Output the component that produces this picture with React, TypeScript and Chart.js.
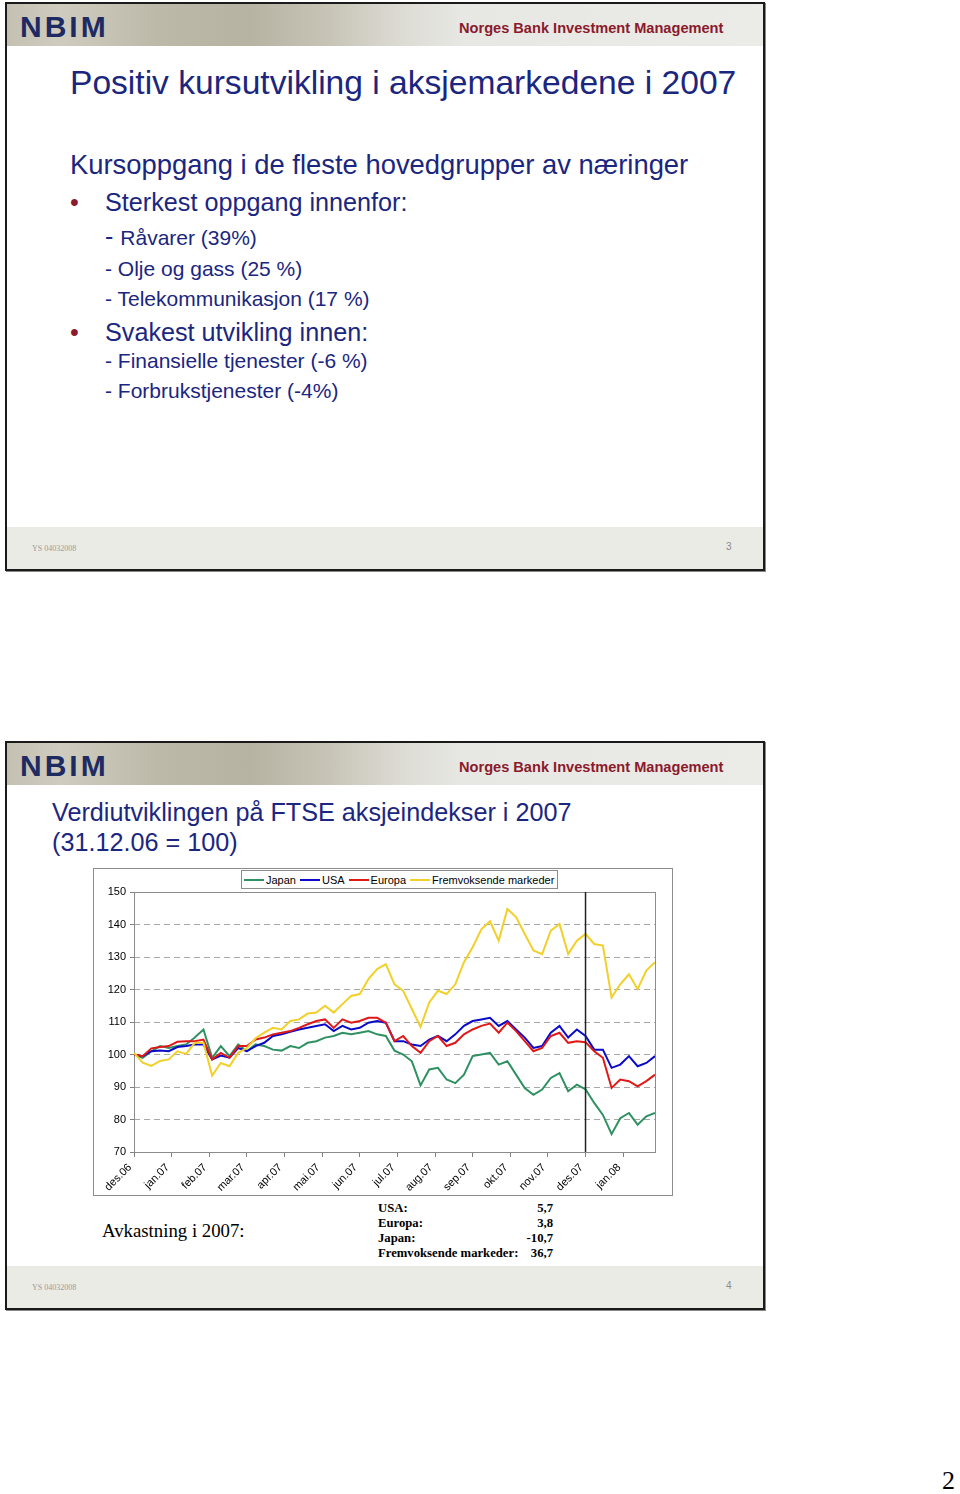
import React, { useEffect, useRef } from 'react';
import { Chart, registerables } from 'chart.js';

Chart.register(...registerables);

// ---------- data ----------
const MONTH_LABELS = [
  'des.06', 'jan.07', 'feb.07', 'mar.07', 'apr.07', 'mai.07', 'jun.07',
  'jul.07', 'aug.07', 'sep.07', 'okt.07', 'nov.07', 'des.07', 'jan.08',
];
const WEEKS_PER_MONTH = 52 / 12;
const YEAR_END_MONTH = 12; // des.07 marker line

// weekly index values (31.12.06 = 100)
const JAPAN = [
  100, 99, 101, 102.6, 102, 102.6, 103.1, 105.2, 107.7, 99, 102.6, 99.5, 103.1, 101, 103.1,
  102.6, 101.5, 101.2, 102.6, 102, 103.6, 104.1, 105.2, 105.7, 106.7, 106.2, 106.7, 107.2, 106.2,
  105.7, 101.2, 100, 97.9, 90.5, 95.4, 95.9, 92.3, 91.2, 93.8, 99.5, 100, 100.5, 96.9, 97.9,
  93.8, 89.7, 87.6, 89.2, 92.8, 94.3, 88.7, 90.7, 89.3, 85.1, 81.4, 75.5, 80.4, 82, 78.4, 81, 82,
];
const USA = [
  100, 99.5, 101, 101.2, 101, 102.3, 102.6, 103.1, 103.1, 98.5, 99.7, 99, 102, 101, 102.6,
  103.6, 105.7, 106.2, 107, 107.7, 108.2, 108.8, 109.3, 107.2, 108.8, 107.7, 108.2, 109.8, 110.3,
  109.8, 104.1, 104.1, 103.1, 102.6, 104.6, 105.7, 104.1, 106.2, 108.8, 110.3, 110.8, 111.3, 108.8,
  110.3, 107.7, 105.2, 102, 102.6, 106.7, 108.8, 105.2, 107.7, 105.7, 101.5, 101.5, 95.9, 96.9,
  99.5, 96.4, 97.4, 99.5,
];
const EUROPA = [
  100, 99.5, 101.9, 102.3, 102.6, 103.9, 104.1, 104.1, 104.6, 98.5, 100.5, 99, 102.6, 102.6, 104.6,
  105.2, 106.2, 106.7, 107.2, 108.2, 109.3, 110.3, 110.8, 108.2, 110.8, 109.8, 110.3, 111.3, 111.3,
  109.8, 104.1, 105.7, 102.6, 100.5, 104.1, 105.7, 102.6, 103.6, 106.2, 107.7, 108.8, 109.5, 106.7,
  109.8, 107.2, 104.1, 101, 102, 105.7, 106.7, 103.6, 104.1, 103.8, 101, 99, 89.7, 92.3, 91.8,
  90.2, 91.8, 93.8,
];
const EMERGING = [
  100.5, 97.5, 96.5, 98, 98.5, 101, 100.2, 103.6, 103.6, 93.5, 97.4, 96.4, 100.5, 102, 105,
  106.7, 108.2, 107.7, 110.3, 110.8, 112.6, 112.9, 115, 112.9, 115.5, 118, 118.6, 123.2, 126.3,
  127.8, 121.6, 119.6, 114, 108.5, 116, 119.6, 118.6, 121.6, 128.4, 133, 138.5, 141, 135, 144.8,
  142.3, 137.1, 132, 130.9, 138.1, 140.2, 130.9, 135, 137.1, 134, 133.5, 117.5, 121.6, 124.7,
  120.1, 125.8, 128.4,
];

const SERIES_NAMES = ['Japan', 'USA', 'Europa', 'Fremvoksende markeder'];
const SERIES_COLORS = ['#2f9162', '#0a0ac8', '#e01818', '#f2d02a'];

const RETURN_LABELS = ['USA:', 'Europa:', 'Japan:', 'Fremvoksende markeder:'];
const RETURN_VALUES = ['5,7', '3,8', '-10,7', '36,7'];

// ---------- styles ----------
const SANS = '"Liberation Sans", Arial, Helvetica, sans-serif';
const SERIF = '"Liberation Serif", "Times New Roman", Times, serif';
const NAVY = '#1b2680';
const DARKRED = '#8b1a2c';

type TProps = {
  x: number; y: number; size: number; children: React.ReactNode;
  color?: string; family?: string; weight?: number; align?: 'left' | 'right';
};
function T({ x, y, size, children, color = NAVY, family = SANS, weight = 400, align = 'left' }: TProps) {
  const top = y - 0.845 * size;
  const pos = align === 'right' ? { right: 960 - x } : { left: x };
  return (
    <div
      style={{
        position: 'absolute', top, ...pos, fontSize: size, lineHeight: `${size}px`,
        whiteSpace: 'nowrap', color, fontFamily: family, fontWeight: weight,
      }}
    >
      {children}
    </div>
  );
}

function Slide({ top, page }: { top: number; page: string }) {
  return (
    <>
      <div
        style={{
          position: 'absolute', left: 5, top, width: 756, height: 565,
          border: '2px solid #1a1a1a', background: '#fff',
          boxShadow: '1px 1px 0 #888',
        }}
      />
      <div
        style={{
          position: 'absolute', left: 7, top: top + 2, width: 756, height: 42,
          background:
            'linear-gradient(90deg, #c4c1b3 0%, #cfccbf 7%, #bdb9a9 20%, #b7b3a3 32%, #c6c3b5 42%, #dcdbd3 52%, #e7e7e3 60%, #ebebe8 100%)',
        }}
      />
      <T x={20} y={top + 35} size={30} weight={700} color="#1e2a62">
        <span style={{ letterSpacing: 3 }}>NBIM</span>
      </T>
      <T x={459} y={top + 31} size={14.6} weight={700} color={DARKRED}>
        Norges Bank Investment Management
      </T>
      <div
        style={{
          position: 'absolute', left: 7, top: top + 525, width: 756, height: 42,
          background: '#ebebe6',
        }}
      />
      <T x={32} y={top + 550} size={8} family={SERIF} color="#9a9a9a">YS 04032008</T>
      <T x={726} y={top + 548} size={10} color="#8a8a8a">{page}</T>
    </>
  );
}

function FtseChart() {
  const ref = useRef<HTMLCanvasElement>(null);
  useEffect(() => {
    const series = [JAPAN, USA, EUROPA, EMERGING];
    const drawOrder = [3, 2, 1, 0];
    const datasets = series.map((vals, s) => ({
      label: SERIES_NAMES[s],
      data: vals.map((v, i) => ({ x: i / WEEKS_PER_MONTH, y: v })),
      borderColor: SERIES_COLORS[s],
      backgroundColor: SERIES_COLORS[s],
      borderWidth: 2,
      pointRadius: 0,
      tension: 0,
      fill: false,
      order: drawOrder[s],
    }));

    const framePlugin = {
      id: 'frameAndMarker',
      beforeDatasetsDraw(chart: any) {
        const { ctx, chartArea: a } = chart;
        ctx.save();
        ctx.strokeStyle = '#8c8c8c';
        ctx.lineWidth = 1;
        ctx.strokeRect(Math.round(a.left) + 0.5, Math.round(a.top) + 0.5,
          Math.round(a.right - a.left), Math.round(a.bottom - a.top));
        ctx.restore();
      },
      afterDatasetsDraw(chart: any) {
        const { ctx, chartArea: a, scales } = chart;
        const x = scales.x.getPixelForValue(YEAR_END_MONTH);
        ctx.save();
        ctx.strokeStyle = '#222';
        ctx.lineWidth = 1.5;
        ctx.beginPath();
        ctx.moveTo(x, a.top);
        ctx.lineTo(x, a.bottom);
        ctx.stroke();
        ctx.restore();
      },
    };

    const tickFont = { family: SANS, size: 11 };
    const chart = new Chart(ref.current as HTMLCanvasElement, {
      type: 'line',
      data: { datasets },
      plugins: [framePlugin],
      options: {
        animation: false,
        responsive: false,
        maintainAspectRatio: false,
        layout: { padding: { top: 24, right: 18, left: 0, bottom: 0 } },
        plugins: { legend: { display: false }, tooltip: { enabled: false } },
        scales: {
          x: {
            type: 'linear',
            min: 0,
            max: (EMERGING.length - 1) / WEEKS_PER_MONTH,
            afterBuildTicks: (s: any) => {
              s.ticks = MONTH_LABELS.map((_, i) => ({ value: i }));
            },
            afterFit: (s: any) => { s.height = 44; },
            ticks: {
              autoSkip: false,
              minRotation: 45,
              maxRotation: 45,
              padding: 4,
              labelOffset: -4,
              color: '#000',
              font: tickFont,
              callback: (v: any) => MONTH_LABELS[Math.round(Number(v))] ?? '',
            },
            grid: { drawOnChartArea: false, tickLength: 5, color: '#808080' },
            border: { display: false },
          },
          y: {
            min: 70,
            max: 150,
            afterFit: (s: any) => { s.width = 41; },
            ticks: { stepSize: 10, padding: 4, color: '#000', font: tickFont },
            grid: {
              color: (c: any) =>
                c.tick && (c.tick.value === 70 || c.tick.value === 150) ? 'rgba(0,0,0,0)' : '#a8a8a8',
              tickColor: '#808080',
              tickLength: 4,
              lineWidth: 1,
            },
            border: { display: false, dash: [6, 4] },
          },
        },
      } as any,
    });
    return () => chart.destroy();
  }, []);
  return (
    <canvas
      ref={ref}
      width={580}
      height={328}
      style={{ position: 'absolute', left: 93, top: 868, width: 580, height: 328 }}
    />
  );
}

function Legend() {
  return (
    <div
      style={{
        position: 'absolute', left: 241, top: 870, height: 17, padding: '0 3px 0 2px',
        border: '1px solid #8c8c8c', background: '#fff', display: 'flex', alignItems: 'center',
        fontFamily: SANS, fontSize: 11, color: '#000', whiteSpace: 'nowrap',
      }}
    >
      {SERIES_NAMES.map((n, i) => (
        <div key={n} style={{ display: 'flex', alignItems: 'center', marginLeft: i === 0 ? 0 : 4 }}>
          <div style={{ width: 20, height: 2, background: SERIES_COLORS[i], marginRight: 2 }} />
          <span>{n}</span>
        </div>
      ))}
    </div>
  );
}

export default function App() {
  return (
    <div
      style={{
        position: 'absolute', left: 0, top: 0, width: 960, height: 1494,
        background: '#fff', overflow: 'hidden', fontFamily: SANS,
      }}
    >
      {/* ---------- slide 3 ---------- */}
      <Slide top={2} page="3" />
      <T x={70} y={94} size={33.6}>Positiv kursutvikling i aksjemarkedene i 2007</T>
      <T x={70} y={174} size={27.4}>Kursoppgang i de fleste hovedgrupper av næringer</T>
      <T x={70} y={211} size={25.2} color={DARKRED}>•</T>
      <T x={105} y={211} size={25.2}>Sterkest oppgang innenfor:</T>
      <T x={105} y={244} size={21}><span style={{ fontSize: 25 }}>- </span>Råvarer (39%)</T>
      <T x={105} y={276} size={21}>- Olje og gass (25 %)</T>
      <T x={105} y={306} size={21}>- Telekommunikasjon (17 %)</T>
      <T x={70} y={341} size={25.2} color={DARKRED}>•</T>
      <T x={105} y={341} size={25.2}>Svakest utvikling innen:</T>
      <T x={105} y={368} size={21}>- Finansielle tjenester (-6 %)</T>
      <T x={105} y={398} size={21}>- Forbrukstjenester (-4%)</T>

      {/* ---------- slide 4 ---------- */}
      <Slide top={741} page="4" />
      <T x={52} y={821} size={25.2}>Verdiutviklingen på FTSE aksjeindekser i 2007</T>
      <T x={52} y={851} size={25.2}>(31.12.06 = 100)</T>

      <div
        style={{
          position: 'absolute', left: 93, top: 868, width: 578, height: 326,
          border: '1px solid #8c8c8c', background: '#fff',
        }}
      />
      <FtseChart />
      <Legend />

      <T x={102} y={1238} size={18.8} family={SERIF} color="#000">Avkastning i 2007:</T>
      {RETURN_LABELS.map((l, i) => (
        <T key={l} x={378} y={1213 + i * 15} size={12.7} family={SERIF} weight={700} color="#000">{l}</T>
      ))}
      {RETURN_VALUES.map((v, i) => (
        <T key={i} x={553} y={1213 + i * 15} size={12.7} family={SERIF} weight={700} color="#000" align="right">{v}</T>
      ))}

      <T x={955} y={1490} size={26} family={SERIF} color="#000" align="right">2</T>
    </div>
  );
}
